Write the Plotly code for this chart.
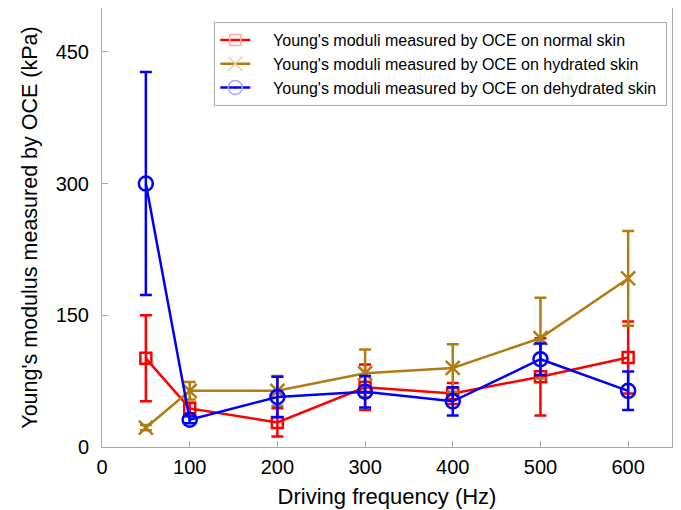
import plotly.graph_objects as go

freq = [50, 100, 200, 300, 400, 500, 600]
normal = [101, 44, 28, 68, 61, 80, 102]
normal_err = [49, 6, 16, 26, 12, 44, 41]
hydrated = [22, 64, 64, 84, 90, 124, 192]
hydrated_err = [3, 10, 17, 27, 27, 46, 54]
dehydrated = [300, 31, 57, 63, 52, 100, 64]
dehydrated_err = [127, 4, 23, 18, 16, 18, 22]

names = ["Young's moduli measured by OCE on normal skin",
         "Young's moduli measured by OCE on hydrated skin",
         "Young's moduli measured by OCE on dehydrated skin"]
colors = ["#FF0000", "#B27C10", "#0000FF"]
legend_marker_colors = ["#FFA8A8", "#E6CFA0", "#A8A8FF"]
symbols = ["square-open", "x-thin-open", "circle-open"]
sizes = [11, 14, 14]

fig = go.Figure()
for y, e, n, c, lc, s, sz in zip([normal, hydrated, dehydrated],
                                 [normal_err, hydrated_err, dehydrated_err],
                                 names, colors, legend_marker_colors, symbols, sizes):
    fig.add_trace(go.Scatter(
        x=freq, y=y, name=n, mode="lines+markers", showlegend=False,
        line=dict(color=c, width=2.5),
        marker=dict(symbol=s, size=sz, color=c, line=dict(color=c, width=2.5)),
        error_y=dict(type="data", array=e, visible=True, color=c, thickness=2.5, width=6),
    ))
    # legend entry with faded marker, as in the reference
    fig.add_trace(go.Scatter(
        x=[None], y=[None], name="\u00a0\u00a0\u00a0\u00a0" + n + "\u00a0", mode="lines+markers",
        line=dict(color=c, width=2.5),
        marker=dict(symbol=s, size=sz, color=lc, line=dict(color=lc, width=1.5)),
    ))

fig.update_layout(
    width=673, height=502,
    margin=dict(l=94, r=9, t=0, b=63),
    paper_bgcolor="white", plot_bgcolor="white",
    font=dict(family="Liberation Sans, Arial, sans-serif", size=20, color="black"),
    legend=dict(x=0.197, y=0.968, xanchor="left", yanchor="top",
                bgcolor="white", bordercolor="#AAAAAA", borderwidth=1,
                font=dict(size=16), tracegroupgap=0, itemwidth=30),
    xaxis=dict(range=[0, 650], tickvals=[0, 100, 200, 300, 400, 500, 600],
               automargin=False,
               showgrid=False, zeroline=False, showline=True, linecolor="#AAAAAA",
               linewidth=1, mirror=True, ticks="inside", ticklen=6, tickcolor="#AAAAAA",
               ticklabelstandoff=2,
               title=dict(text="Driving frequency (Hz)", font=dict(size=22), standoff=11)),
    yaxis=dict(range=[0, 500], tickvals=[0, 150, 300, 450],
               automargin=False,
               showgrid=False, zeroline=False, showline=True, linecolor="#AAAAAA",
               linewidth=1, mirror=True, ticks="inside", ticklen=6, tickcolor="#AAAAAA",
               ticklabelstandoff=8,
               title=dict(text="Young's modulus measured by OCE (kPa)", font=dict(size=21.5), standoff=12)),
)

fig.write_html("out.html")
